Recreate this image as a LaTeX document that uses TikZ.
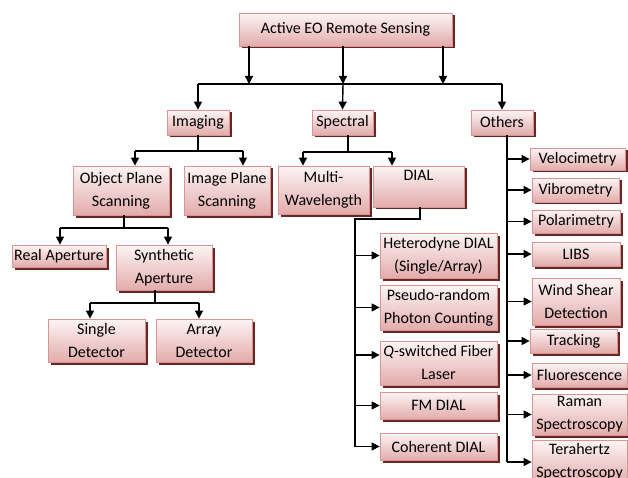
\documentclass[tikz,border=0pt]{standalone}
\usepackage{fontspec}
\setmainfont{Carlito}
\usetikzlibrary{arrows.meta,shadows,calc}

\definecolor{boxtop}{RGB}{253,244,244}
\definecolor{boxbot}{RGB}{226,172,171}
\definecolor{boxline}{RGB}{217,149,148}
\definecolor{boxshadow}{RGB}{105,38,36}

\tikzset{
    box/.style={draw=boxline, line width=0.8pt, top color=boxtop, bottom color=boxbot,
        drop shadow={shadow xshift=2.5pt, shadow yshift=-2.5pt, fill=boxshadow, opacity=1},
        align=center, inner sep=1pt, font=\fontsize{16}{23}\selectfont},
    link/.style={line width=1.4pt},
    arr/.style={link, -{Triangle[length=8pt,width=8pt]}}
}

\begin{document}
\begin{tikzpicture}[x=1pt, y=-1pt]

    \clip (0,0) rectangle (628,478);

    \node[box, minimum width=213pt, minimum height=33pt] (root) at (345.5,29.5) {Active EO Remote Sensing};

    \node[box, minimum width=62pt, minimum height=25pt] (img) at (198,122.5) {Imaging};
    \node[box, minimum width=61pt, minimum height=25pt] (spec) at (342.5,122.5) {Spectral};
    \node[box, minimum width=62pt, minimum height=25pt] (oth) at (502,122.5) {Others};

    \node[box, minimum width=96pt, minimum height=49pt] (ops) at (121,190.5) {Object Plane\\Scanning};
    \node[box, minimum width=86pt, minimum height=49pt] (ips) at (227,190.5) {Image Plane\\Scanning};
    \node[box, minimum width=91pt, minimum height=48pt] (mwl) at (323.5,190) {Multi-\\Wavelength};
    \node[box, minimum width=91pt, minimum height=41pt, text depth=22pt] (dial) at (418.5,186.5) {DIAL};

    \node[box, minimum width=94pt, minimum height=22pt] (real) at (59,256) {Real Aperture};
    \node[box, minimum width=96pt, minimum height=45pt] (syn) at (164,267.5) {Synthetic\\Aperture};
    \node[box, minimum width=97pt, minimum height=43pt] (single) at (96.5,340.5) {Single\\Detector};
    \node[box, minimum width=96pt, minimum height=43pt] (array) at (204,340.5) {Array\\Detector};

    \node[box, minimum width=117pt, minimum height=45pt] (het) at (438.5,255.5) {Heterodyne DIAL\\(Single/Array)};
    \node[box, minimum width=117pt, minimum height=45pt] (prn) at (438.5,307.5) {Pseudo-random\\Photon Counting};
    \node[box, minimum width=117pt, minimum height=44pt] (qsw) at (438.5,363) {\textit{Q}-switched Fiber\\Laser};
    \node[box, minimum width=117pt, minimum height=27pt] (fm) at (438.5,405.5) {FM DIAL};
    \node[box, minimum width=117pt, minimum height=27pt] (coh) at (438.5,446.5) {Coherent DIAL};

    \node[box, minimum width=95pt, minimum height=22pt] (velo) at (577.5,159) {Velocimetry};
    \node[box, minimum width=87pt, minimum height=24pt] (vibro) at (575.5,190) {Vibrometry};
    \node[box, minimum width=88pt, minimum height=23pt] (polar) at (576,221.5) {Polarimetry};
    \node[box, minimum width=88pt, minimum height=24pt] (libs) at (576,254) {LIBS};
    \node[box, minimum width=88pt, minimum height=47pt] (wind) at (576,301.5) {Wind Shear\\Detection};
    \node[box, minimum width=87pt, minimum height=24pt] (track) at (573.5,341) {Tracking};
    \node[box, minimum width=95pt, minimum height=24pt] (fluo) at (579.5,375) {Fluorescence};
    \node[box, minimum width=95pt, minimum height=41pt] (raman) at (579.5,414.5) {Raman\\Spectroscopy};
    \node[box, minimum width=95pt, minimum height=44pt] (tera) at (579.5,462) {Terahertz\\Spectroscopy};

    % top level
    \coordinate (r1) at (249,84);
    \coordinate (r2) at (343,84);
    \coordinate (r3) at (443,84);
    \draw[arr] (root.south -| r1) -- (r1);
    \draw[arr] (root.south -| r2) -- (r2);
    \draw[arr] (root.south -| r3) -- (r3);
    \draw[link] (img.north |- r1) -- (oth.north |- r1);
    \draw[arr] (img.north |- r1) -- (img.north);
    \draw[arr] (r2) -- (spec.north);
    \draw[arr] (oth.north |- r1) -- (oth.north);

    % imaging
    \coordinate (ib1) at (135,151);
    \coordinate (ib2) at (243,151);
    \draw[link] (img.south) -- (img.south |- ib1);
    \draw[link] (ib1) -- (ib2);
    \draw[arr] (ib1) -- (ib1 |- ops.north);
    \draw[arr] (ib2) -- (ib2 |- ips.north);

    \coordinate (ob1) at (60,228);
    \coordinate (ob2) at (168,228);
    \draw[link] (ops.south -| 124,0) -- (124,228);
    \draw[link] (ob1) -- (ob2);
    \draw[arr] (ob1) -- (ob1 |- real.north);
    \draw[arr] (ob2) -- (ob2 |- syn.north);

    \coordinate (sy1) at (90,303);
    \coordinate (sy2) at (199,303);
    \draw[link] (syn.south -| 155,0) -- (155,303);
    \draw[link] (sy1) -- (sy2);
    \draw[arr] (sy1) -- (sy1 |- single.north);
    \draw[arr] (sy2) -- (sy2 |- array.north);

    % spectral
    \coordinate (sb) at (348,152);
    \coordinate (sb1) at (303,152);
    \coordinate (sb2) at (392,152);
    \draw[link] (spec.south -| sb) -- (sb);
    \draw[link] (sb1) -- (sb2);
    \draw[arr] (sb1) -- (sb1 |- mwl.north);
    \draw[arr] (sb2) -- (sb2 |- dial.north);

    \coordinate (dd) at (420,219);
    \coordinate (dt) at (355,219);
    \draw[link] (dial.south -| dd) -- (dd) -- (dt) -- (dt |- coh.west);
    \draw[arr] (dt |- het.west) -- (het.west);
    \draw[arr] (dt |- prn.west) -- (prn.west);
    \draw[arr] ($(dt |- qsw.west)+(0,-8)$) -- ($(qsw.west)+(0,-8)$);
    \draw[arr] (dt |- fm.west) -- (fm.west);
    \draw[arr] (dt |- coh.west) -- (coh.west);

    % others
    \coordinate (ot) at (507,0);
    \draw[link] (oth.south -| ot) -- (ot |- tera.west);
    \draw[arr] (ot |- velo.west) -- (velo.west);
    \draw[arr] (ot |- vibro.west) -- (vibro.west);
    \draw[arr] (ot |- polar.west) -- (polar.west);
    \draw[arr] (ot |- libs.west) -- (libs.west);
    \draw[arr] (ot |- wind.west) -- (wind.west);
    \draw[arr] (ot |- track.west) -- (track.west);
    \draw[arr] (ot |- fluo.west) -- (fluo.west);
    \draw[arr] (ot |- raman.west) -- (raman.west);
    \draw[arr] (ot |- tera.west) -- (tera.west);

\end{tikzpicture}
\end{document}
